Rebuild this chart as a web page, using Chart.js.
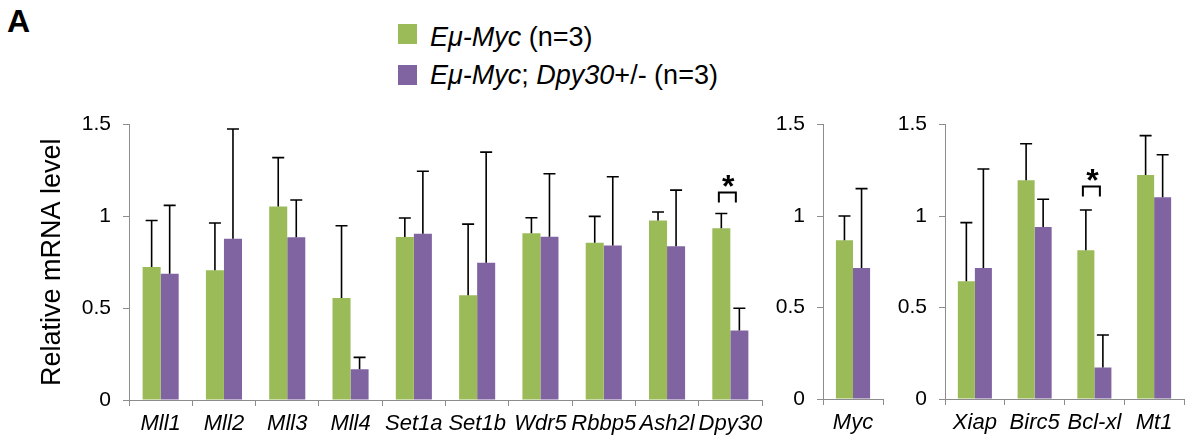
<!DOCTYPE html>
<html><head><meta charset="utf-8">
<script src="https://cdn.jsdelivr.net/npm/chart.js@4.4.1/dist/chart.umd.min.js"></script>
<style>
body{margin:0;width:1191px;height:438px;background:#fff;position:relative;overflow:hidden;font-family:'Liberation Sans',Arial,sans-serif;color:#000;}
canvas{position:absolute;}
#panelLabel{position:absolute;left:7px;top:3px;font-weight:bold;font-size:32px;line-height:36px;}
.sw{position:absolute;width:19px;height:20px;}
.lt{position:absolute;left:430px;font-size:27px;line-height:32px;white-space:nowrap;}
</style></head><body>
<div id="panelLabel">A</div>
<div class="sw" id="sw0" style="left:398px;top:24px"></div>
<div class="sw" id="sw1" style="left:398px;top:65px"></div>
<div class="lt" style="top:21px"><i>Eμ-Myc</i> (n=3)</div>
<div class="lt" style="top:59px"><i>Eμ-Myc</i>; <i>Dpy30</i>+/- (n=3)</div>
<canvas id="c1" width="770" height="338" style="left:0;top:100px"></canvas>
<canvas id="c2" width="120" height="338" style="left:770px;top:100px"></canvas>
<canvas id="c3" width="301" height="338" style="left:890px;top:100px"></canvas>
<script>
// ---- data ----
const seriesNames = ['Eμ-Myc (n=3)', 'Eμ-Myc; Dpy30+/- (n=3)'];
const seriesColors = ['#9BBB59', '#8064A2'];
const yTicks = [0, 0.5, 1, 1.5];
const yTickLabels = ['0', '0.5', '1', '1.5'];
const yTitle = 'Relative mRNA level';

const genes1 = ['Mll1','Mll2','Mll3','Mll4','Set1a','Set1b','Wdr5','Rbbp5','Ash2l','Dpy30'];
const ctrl1    = [0.725, 0.707, 1.054, 0.556, 0.888, 0.571, 0.908, 0.857, 0.978, 0.935];
const ctrlErr1 = [0.253, 0.257, 0.266, 0.393, 0.103, 0.387, 0.085, 0.143, 0.046, 0.081];
const het1     = [0.688, 0.878, 0.886, 0.167, 0.906, 0.748, 0.889, 0.841, 0.837, 0.379];
const hetErr1  = [0.372, 0.598, 0.203, 0.065, 0.340, 0.602, 0.343, 0.375, 0.306, 0.121];
const sigGenes1 = ['Dpy30'];
const sigLevels1 = [1.13];

const genes2 = ['Myc'];
const ctrl2    = [0.868];
const ctrlErr2 = [0.132];
const het2     = [0.716];
const hetErr2  = [0.434];
const sigGenes2 = [];
const sigLevels2 = [];

const genes3 = ['Xiap','Birc5','Bcl-xl','Mt1'];
const ctrl3    = [0.643, 1.196, 0.813, 1.225];
const ctrlErr3 = [0.321, 0.199, 0.220, 0.215];
const het3     = [0.716, 0.940, 0.172, 1.103];
const hetErr3  = [0.541, 0.152, 0.178, 0.232];
const sigGenes3 = ['Bcl-xl'];
const sigLevels3 = [1.162];

// ---- rendering ----
document.getElementById('sw0').style.background = seriesColors[0];
document.getElementById('sw1').style.background = seriesColors[1];

const FONT = "'Liberation Sans', Arial, sans-serif";
const AXIS = '#8c8c8c';

const errPlugin = {
  id: 'errbars',
  afterDatasetsDraw(chart, args, opts) {
    const ctx = chart.ctx, ys = chart.scales.y;
    ctx.save();
    ctx.strokeStyle = '#000';
    ctx.lineWidth = 1.6;
    chart.data.datasets.forEach((ds, di) => {
      const meta = chart.getDatasetMeta(di);
      meta.data.forEach((bar, i) => {
        const top = ys.getPixelForValue(ds.data[i] + ds.errors[i]);
        ctx.beginPath();
        ctx.moveTo(bar.x, bar.y);
        ctx.lineTo(bar.x, top);
        ctx.moveTo(bar.x - 6, top);
        ctx.lineTo(bar.x + 6, top);
        ctx.stroke();
      });
    });
    const labels = chart.data.labels;
    (opts.sigGenes || []).forEach((g, k) => {
      const i = labels.indexOf(g);
      const a = chart.getDatasetMeta(0).data[i], b = chart.getDatasetMeta(1).data[i];
      const mid = (a.x + b.x) / 2 - 3;
      const yTop = ys.getPixelForValue(opts.sigLevels[k]);
      ctx.lineWidth = 2;
      ctx.beginPath();
      ctx.moveTo(mid - 8.5, yTop + 10);
      ctx.lineTo(mid - 8.5, yTop);
      ctx.lineTo(mid + 8.5, yTop);
      ctx.lineTo(mid + 8.5, yTop + 10);
      ctx.stroke();
      ctx.fillStyle = '#000';
      ctx.font = 'bold 32px ' + FONT;
      ctx.textAlign = 'center';
      ctx.textBaseline = 'alphabetic';
      ctx.fillText('*', mid + 1, yTop - 14 + 18.5);
    });
    ctx.restore();
  }
};

function makeChart(id, labels, c, ce, h, he, sigG, sigL, cfg) {
  return new Chart(document.getElementById(id), {
    type: 'bar',
    data: {
      labels: labels,
      datasets: [
        { label: seriesNames[0], data: c, errors: ce, backgroundColor: seriesColors[0], categoryPercentage: 0.57, barPercentage: 1 },
        { label: seriesNames[1], data: h, errors: he, backgroundColor: seriesColors[1], categoryPercentage: 0.57, barPercentage: 1 }
      ]
    },
    options: {
      responsive: false,
      animation: false,
      devicePixelRatio: 1,
      layout: { padding: cfg.padding },
      plugins: {
        legend: { display: false },
        tooltip: { enabled: false },
        errbars: { sigGenes: sigG, sigLevels: sigL }
      },
      scales: {
        x: {
          offset: true,
          grid: { drawOnChartArea: false, drawTicks: true, tickLength: 6, color: AXIS, offset: true },
          border: { color: AXIS, width: 1 },
          ticks: { color: '#000', font: { family: FONT, size: 22, style: 'italic' }, padding: 5, maxRotation: 0, autoSkip: false },
          afterFit: s => { s.height = cfg.xh; }
        },
        y: {
          min: 0, max: 1.5,
          afterBuildTicks: s => { s.ticks = yTicks.map(v => ({ value: v })); },
          grid: { drawOnChartArea: false, drawTicks: true, tickLength: 6, color: AXIS },
          border: { color: AXIS, width: 1 },
          ticks: {
            color: '#000', font: { family: FONT, size: 21 }, padding: 12,
            callback: v => yTickLabels[yTicks.indexOf(v)]
          },
          title: cfg.title ? { display: true, text: yTitle, color: '#000', font: { family: FONT, size: 27 }, padding: { top: 36, bottom: 0 } } : { display: false },
          afterFit: s => { s.width = cfg.yw; }
        }
      }
    },
    plugins: [errPlugin]
  });
}

makeChart('c1', genes1, ctrl1, ctrlErr1, het1, hetErr1, sigGenes1, sigLevels1,
  { padding: { top: 24, right: 8, bottom: 0, left: 0 }, xh: 38, yw: 129, title: true });
makeChart('c2', genes2, ctrl2, ctrlErr2, het2, hetErr2, sigGenes2, sigLevels2,
  { padding: { top: 23, right: 7, bottom: 0, left: 0 }, xh: 39, yw: 53, title: false });
makeChart('c3', genes3, ctrl3, ctrlErr3, het3, hetErr3, sigGenes3, sigLevels3,
  { padding: { top: 23, right: 7, bottom: 0, left: 0 }, xh: 39, yw: 55, title: false });
</script>
</body></html>
